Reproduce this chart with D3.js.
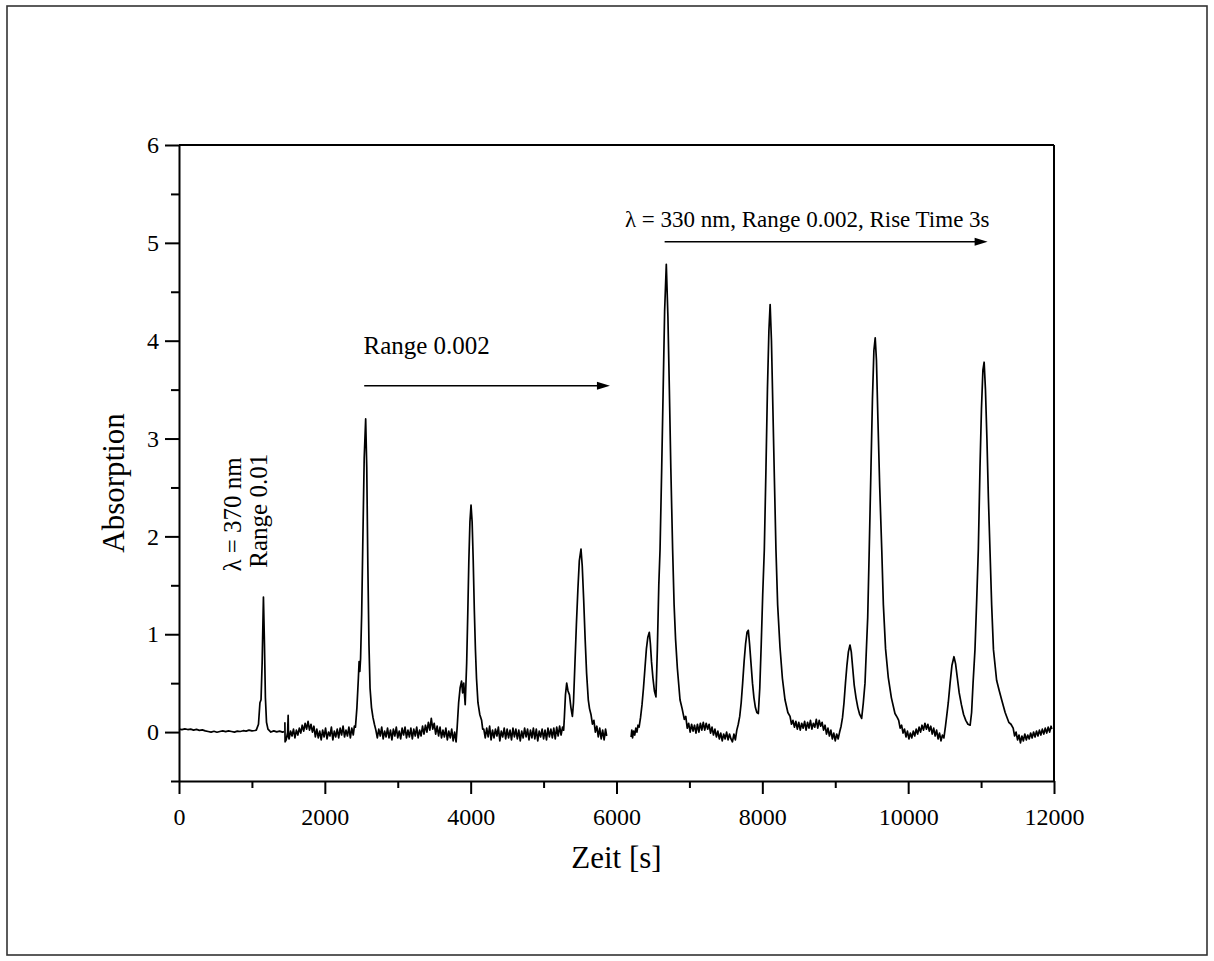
<!DOCTYPE html>
<html>
<head>
<meta charset="utf-8">
<script src="https://cdn.jsdelivr.net/npm/d3@7"></script>
<style>
  html, body { margin: 0; padding: 0; background: #fff; }
  svg { display: block; }
  text { font-family: "Liberation Serif", "Times New Roman", Times, serif; fill: #000; }
</style>
</head>
<body>
<svg id="chart" width="1214" height="961"></svg>
<script>
// Chromatogram trace, three recording runs: [time in s, absorption]
const run370 = [
  [0,0.03],[40,0.025],[80,0.032],[120,0.026],[160,0.03],[200,0.02],[240,0.027],[280,0.018],
  [320,0.022],[360,0.012],[400,0.006],[440,0.0],[480,0.008],[520,-0.002],[560,0.006],[600,0.012],
  [640,0.004],[680,0.012],[720,0.006],[760,0.0],[800,0.01],[840,0.006],[880,0.014],[920,0.01],
  [960,0.02],[1000,0.012],[1040,0.016],[1060,0.02],[1090,0.08],[1110,0.3],[1125,0.33],[1140,0.7],
  [1158,1.38],[1172,0.9],[1185,0.35],[1200,0.1],[1220,0.03],[1260,0.0],[1300,0.012],[1340,0.002],
  [1380,0.01],[1420,0.0],[1440,0.004]
];
const run002 = [
  [1452,0.1],[1455,-0.1],[1470,-0.08],[1490,0.0],[1497,0.17],[1502,-0.05],
  [1510,-0.07],[1530,0.01],[1550,-0.04],[1570,0.03],[1590,-0.06],[1610,0.02],[1630,-0.03],[1650,0.04],
  [1670,-0.01],[1690,0.07],[1710,0.01],[1730,0.09],[1750,0.03],[1770,0.11],[1790,0.02],[1810,0.08],
  [1830,0.0],[1850,0.06],[1870,-0.05],[1890,0.03],[1910,-0.06],[1930,0.01],[1950,-0.08],[1970,0.02],
  [1990,-0.05],[2010,0.04],[2030,-0.07],[2050,0.0],[2070,-0.04],[2090,0.05],[2110,-0.08],[2130,0.01],
  [2150,-0.05],[2170,0.03],[2190,-0.06],[2210,0.04],[2230,-0.03],[2250,0.06],[2270,-0.05],[2290,0.02],
  [2310,-0.04],[2330,0.05],[2350,-0.06],[2370,0.04],[2390,-0.03],[2405,0.06],
  [2420,0.05],[2440,0.25],[2460,0.55],[2470,0.72],[2480,0.62],[2490,0.75],[2505,1.2],[2520,1.9],
  [2540,2.8],[2560,3.2],[2575,2.7],[2590,1.7],[2605,0.9],[2620,0.45],[2640,0.25],[2660,0.15],
  [2680,0.08],[2700,0.02],
  [2720,-0.06],[2740,0.03],[2760,-0.04],[2780,0.05],[2800,-0.07],[2820,0.01],[2840,-0.05],[2860,0.04],
  [2880,-0.06],[2900,0.02],[2920,-0.08],[2940,0.03],[2960,-0.04],[2980,0.05],[3000,-0.06],[3020,0.01],
  [3040,-0.07],[3060,0.04],[3080,-0.03],[3100,0.05],[3120,-0.06],[3140,0.02],[3160,-0.05],[3180,0.04],
  [3200,-0.07],[3220,0.03],[3240,-0.04],[3260,0.05],[3280,-0.06],[3300,0.02],[3320,-0.04],[3340,0.06],
  [3360,-0.02],[3380,0.07],[3400,0.0],[3420,0.1],[3440,0.02],[3460,0.14],[3480,0.03],[3500,0.09],
  [3520,-0.02],[3540,0.06],[3560,-0.04],[3580,0.05],[3600,-0.06],[3620,0.02],[3640,-0.05],[3660,0.04],
  [3680,-0.08],[3700,0.01],[3720,-0.06],[3740,0.03],[3760,-0.09],[3780,0.0],[3800,-0.1],
  [3815,0.05],[3835,0.3],[3855,0.45],[3875,0.52],[3890,0.4],[3905,0.5],[3925,0.28],[3945,0.7],
  [3960,1.2],[3975,1.75],[3990,2.15],[4005,2.32],[4020,2.15],[4035,1.75],[4050,1.25],[4065,0.85],
  [4080,0.55],[4100,0.3],[4125,0.18],[4150,0.12],[4165,0.03],
  [4180,0.03],[4200,-0.06],[4220,0.04],[4240,-0.05],[4260,0.06],[4280,-0.08],[4300,0.02],[4320,-0.06],
  [4340,0.03],[4360,-0.04],[4380,0.05],[4400,-0.09],[4420,0.01],[4440,-0.05],[4460,0.04],[4480,-0.07],
  [4500,0.03],[4520,-0.06],[4540,0.02],[4560,-0.08],[4580,0.04],[4600,-0.05],[4620,0.03],[4640,-0.07],
  [4660,0.02],[4680,-0.09],[4700,0.01],[4720,-0.06],[4740,0.04],[4760,-0.05],[4780,0.03],[4800,-0.08],
  [4820,0.02],[4840,-0.06],[4860,0.04],[4880,-0.07],[4900,0.03],[4920,-0.09],[4940,0.01],[4960,-0.05],
  [4980,0.03],[5000,-0.07],[5020,0.02],[5040,-0.08],[5060,0.04],[5080,-0.05],[5100,0.03],[5120,-0.06],
  [5140,0.04],[5160,-0.07],[5180,0.05],[5200,-0.04],[5220,0.06],[5240,-0.03],[5260,0.05],[5275,0.02],
  [5285,0.15],[5300,0.38],[5317,0.5],[5335,0.42],[5355,0.38],[5375,0.25],[5395,0.16],[5410,0.3],
  [5430,0.7],[5450,1.1],[5470,1.45],[5490,1.75],[5513,1.87],[5530,1.7],[5550,1.35],[5570,0.95],
  [5590,0.6],[5613,0.33],[5630,0.24],[5650,0.18],[5670,0.08],[5690,0.12],[5710,0.0],[5730,0.06],
  [5750,-0.05],[5770,0.04],[5790,-0.07],[5810,0.02],[5830,-0.08],[5850,0.03],[5865,-0.04]
];
const run330 = [
  [6200,-0.05],[6210,0.02],[6220,-0.06],[6235,0.01],[6250,-0.03],[6265,0.04],[6280,0.0],[6295,0.07],
  [6310,0.05],[6330,0.15],
  [6350,0.28],[6370,0.45],[6390,0.65],[6410,0.85],[6430,0.97],[6450,1.02],[6465,0.9],[6480,0.72],
  [6500,0.55],[6520,0.42],[6541,0.36],[6560,0.84],[6580,1.5],[6597,1.86],[6620,2.7],[6640,3.5],
  [6660,4.3],[6683,4.78],[6705,4.25],[6725,3.5],[6745,2.7],[6770,1.86],[6790,1.3],[6810,0.95],
  [6835,0.65],[6871,0.33],[6900,0.24],[6930,0.13],[6950,0.16],
  [6970,0.04],[6990,0.09],[7010,0.0],[7030,0.08],[7050,0.01],[7070,0.07],[7090,-0.01],[7110,0.08],
  [7130,0.0],[7150,0.09],[7170,0.02],[7190,0.1],[7210,0.02],[7230,0.09],[7250,0.03],[7270,0.08],
  [7290,-0.01],[7310,0.05],[7330,-0.03],[7350,0.03],[7370,-0.05],[7390,0.01],[7410,-0.07],[7430,-0.01],
  [7450,-0.09],[7470,-0.02],[7490,-0.07],[7510,0.0],[7530,-0.08],[7550,-0.02],[7570,-0.07],[7590,-0.1],
  [7610,-0.02],[7630,-0.08],[7650,0.02],[7670,0.08],
  [7690,0.16],[7710,0.3],[7730,0.5],[7750,0.72],[7770,0.9],[7790,1.02],[7808,1.04],[7825,0.9],
  [7845,0.7],[7865,0.5],[7885,0.35],[7905,0.25],[7925,0.2],[7945,0.19],[7965,0.45],[7985,0.9],
  [8005,1.4],[8027,1.86],[8050,2.7],[8070,3.5],[8090,4.1],[8107,4.37],[8125,4.0],[8145,3.3],
  [8165,2.6],[8187,1.86],[8210,1.3],[8242,0.87],[8275,0.55],[8311,0.33],[8350,0.2],[8380,0.16],
  [8400,0.08],
  [8420,0.12],[8440,0.05],[8460,0.11],[8480,0.03],[8500,0.1],[8520,0.02],[8540,0.09],[8560,0.04],
  [8580,0.11],[8600,0.02],[8620,0.1],[8640,0.04],[8660,0.12],[8680,0.03],[8700,0.09],[8720,0.05],
  [8740,0.13],[8760,0.04],[8780,0.12],[8800,0.06],[8820,0.1],[8840,0.02],[8860,0.07],[8880,-0.02],
  [8900,0.04],[8920,-0.04],[8940,0.02],[8960,-0.07],[8980,-0.01],[9000,-0.09],[9020,-0.02],[9040,-0.07],
  [9060,0.0],[9080,0.06],
  [9100,0.15],[9120,0.3],[9140,0.5],[9160,0.68],[9180,0.82],[9202,0.89],[9220,0.82],[9240,0.65],
  [9260,0.48],[9285,0.35],[9310,0.25],[9335,0.18],[9362,0.14],[9385,0.3],[9408,0.5],[9430,0.9],
  [9445,1.17],[9466,1.86],[9490,2.7],[9510,3.4],[9530,3.9],[9548,4.03],[9565,3.8],[9585,3.2],
  [9610,2.5],[9638,1.86],[9660,1.3],[9690,0.85],[9727,0.56],[9770,0.35],[9819,0.19],[9850,0.15],
  [9870,0.12],[9890,0.04],[9910,0.07],[9930,-0.01],[9950,0.03],[9970,-0.05],[9990,0.01],[10010,-0.07],
  [10030,-0.01],[10050,-0.06],[10070,0.01],[10090,-0.04],[10110,0.03],[10130,-0.02],[10150,0.05],[10170,0.0],
  [10190,0.07],[10210,0.02],[10230,0.09],[10250,0.03],[10270,0.08],[10290,0.01],[10310,0.06],[10330,-0.02],
  [10350,0.04],[10370,-0.04],[10390,0.02],[10410,-0.07],[10430,-0.01],[10450,-0.09],[10470,-0.03],[10490,-0.06],
  [10510,0.05],
  [10528,0.16],[10550,0.3],[10575,0.5],[10600,0.68],[10628,0.77],[10650,0.7],[10675,0.55],[10700,0.4],
  [10730,0.28],[10760,0.18],[10790,0.12],[10820,0.08],[10850,0.07],[10870,0.2],[10890,0.5],[10916,0.84],
  [10940,1.35],[10962,1.86],[10985,2.7],[11005,3.3],[11025,3.7],[11042,3.78],[11060,3.5],[11080,3.0],
  [11100,2.4],[11122,1.86],[11145,1.3],[11170,0.84],[11213,0.53],[11250,0.42],[11282,0.33],[11330,0.2],
  [11380,0.1],[11410,0.08],
  [11440,0.04],[11460,-0.04],[11480,0.0],[11500,-0.08],[11520,-0.03],[11540,-0.11],[11560,-0.04],[11580,-0.09],
  [11600,-0.02],[11620,-0.08],[11640,-0.03],[11660,-0.07],[11680,-0.01],[11700,-0.06],[11720,0.0],[11740,-0.05],
  [11760,0.01],[11780,-0.04],[11800,0.02],[11820,-0.03],[11840,0.03],[11860,-0.02],[11880,0.04],[11900,-0.01],
  [11920,0.05],[11940,0.0],[11960,0.06],[11970,0.03]
];
const runs = [run370, run002, run330];

// Axis ticks
const xMajorTicks = [0, 2000, 4000, 6000, 8000, 10000, 12000];
const xMinorTicks = [1000, 3000, 5000, 7000, 9000, 11000];
const yMajorTicks = [0, 1, 2, 3, 4, 5, 6];
const yMinorTicks = [-0.5, 0.5, 1.5, 2.5, 3.5, 4.5, 5.5];

// Annotations (data units)
const arrowNotes = [
  { from: 2540, to: 5910, level: 3.54 },
  { from: 6660, to: 11090, level: 5.01 }
];
const textNotes = [
  { t: 2530, a: 3.86, label: "Range 0.002", size: 25 },
  { t: 6115, a: 5.16, label: "λ = 330 nm, Range 0.002, Rise Time 3s", size: 23 }
];
const verticalNotes = [
  { t: 850, a: 1.64, label: "λ = 370 nm" },
  { t: 1205, a: 1.68, label: "Range 0.01" }
];

const svg = d3.select("#chart");
const plot = { left: 179, right: 1054, top: 145, bottom: 781 };

// outer frame
svg.append("rect")
  .attr("x", 7).attr("y", 6).attr("width", 1200).attr("height", 949)
  .attr("fill", "none").attr("stroke", "#333").attr("stroke-width", 1.6);

const x = d3.scaleLinear().domain([0, 12000]).range([plot.left, plot.right]);
const y = d3.scaleLinear().domain([-0.5, 6]).range([plot.bottom, plot.top]);

// trace
const line = d3.line().x(d => x(d[0])).y(d => y(d[1]));
svg.append("g").selectAll("path").data(runs).join("path")
  .attr("d", line)
  .attr("fill", "none").attr("stroke", "#000").attr("stroke-width", 1.7)
  .attr("stroke-linejoin", "round");

// top and right lines of the plot box
svg.append("line").attr("x1", plot.left).attr("x2", plot.right).attr("y1", plot.top).attr("y2", plot.top)
  .attr("stroke", "#000").attr("stroke-width", 2);
svg.append("line").attr("x1", plot.right).attr("x2", plot.right).attr("y1", plot.top).attr("y2", plot.bottom)
  .attr("stroke", "#000").attr("stroke-width", 2);

// bottom axis
svg.append("g").attr("transform", `translate(0,${plot.bottom})`)
  .call(d3.axisBottom(x).tickValues(xMajorTicks).tickSize(13).tickSizeOuter(0).tickPadding(14)
    .tickFormat(d3.format("d")));
svg.append("g").attr("transform", `translate(0,${plot.bottom})`)
  .call(d3.axisBottom(x).tickValues(xMinorTicks).tickSize(7).tickSizeOuter(0).tickFormat(""))
  .call(g => g.select(".domain").remove());

// left axis
svg.append("g").attr("transform", `translate(${plot.left},0)`)
  .call(d3.axisLeft(y).tickValues(yMajorTicks).tickSize(14).tickSizeOuter(0).tickPadding(6)
    .tickFormat(d3.format("d")));
svg.append("g").attr("transform", `translate(${plot.left},0)`)
  .call(d3.axisLeft(y).tickValues(yMinorTicks).tickSize(8).tickSizeOuter(0).tickFormat(""))
  .call(g => g.select(".domain").remove());

svg.selectAll(".domain").attr("stroke", "#000").attr("stroke-width", 2);
svg.selectAll(".tick line").attr("stroke", "#000").attr("stroke-width", 2);
svg.selectAll(".tick text")
  .style("font-family", '"Liberation Serif", "Times New Roman", serif')
  .style("font-size", "24px").attr("fill", "#000");

// axis titles
svg.append("text").attr("x", (plot.left + plot.right) / 2).attr("y", 868)
  .attr("text-anchor", "middle").style("font-size", "31px").text("Zeit [s]");
svg.append("text")
  .attr("transform", `translate(124,483) rotate(-90)`)
  .attr("text-anchor", "middle").style("font-size", "31px").text("Absorption");

// arrows
const arrows = svg.append("g");
arrowNotes.forEach(n => {
  const x0 = x(n.from), x1 = x(n.to), yy = y(n.level);
  arrows.append("line").attr("x1", x0).attr("x2", x1 - 8).attr("y1", yy).attr("y2", yy)
    .attr("stroke", "#000").attr("stroke-width", 1.5);
  arrows.append("path")
    .attr("d", `M${x1},${yy} L${x1 - 13},${yy - 4} L${x1 - 13},${yy + 4} Z`)
    .attr("fill", "#000");
});

// annotation texts
svg.append("g").selectAll("text").data(textNotes).join("text")
  .attr("x", d => x(d.t)).attr("y", d => y(d.a))
  .style("font-size", d => d.size + "px").text(d => d.label);

svg.append("g").selectAll("text").data(verticalNotes).join("text")
  .attr("transform", d => `translate(${x(d.t)},${y(d.a)}) rotate(-90)`)
  .style("font-size", "25px").text(d => d.label);
</script>
</body>
</html>
